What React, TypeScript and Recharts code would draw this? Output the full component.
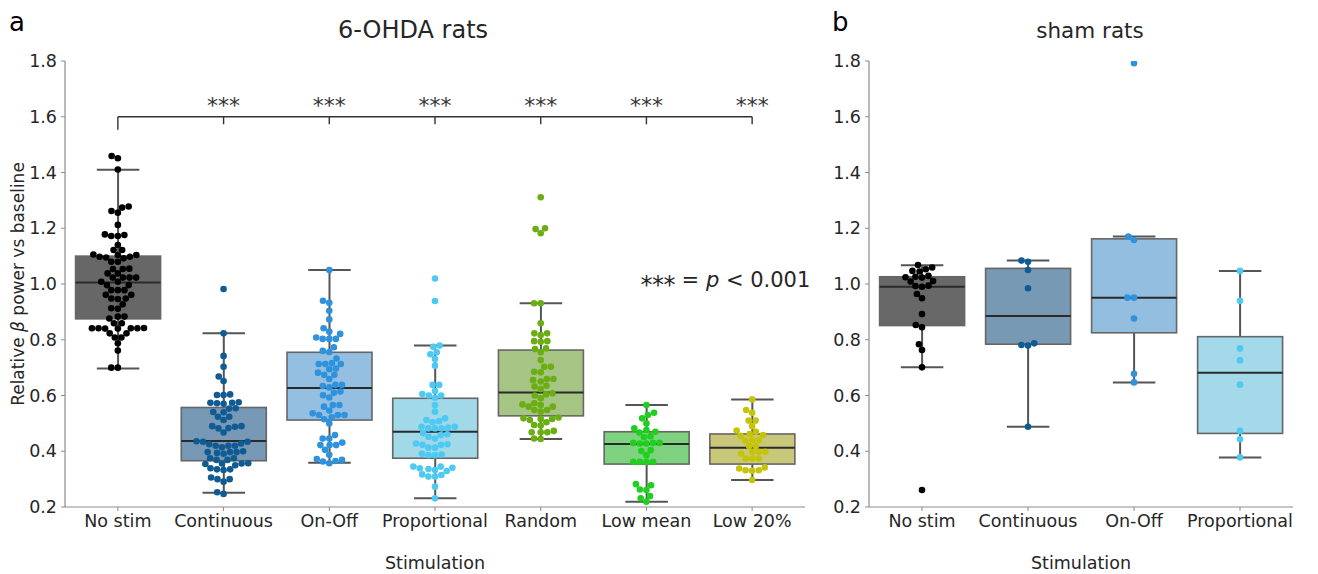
import React from "react";
import {
  Bar,
  ComposedChart,
  ReferenceDot,
  ReferenceLine,
  Scatter,
  XAxis,
  YAxis,
} from "recharts";

const FONT = "'DejaVu Sans', sans-serif";
const TXT = "#262626";
const AXIS = "#8c8c8c";
const EDGE = "#666666";
const WHISKER = "#555555";
const MEDIAN = "#2a2a2a";
const DOT_R = 3.3;
// plot height 446px over 1.6 units, used only by the swarm layout
const PX_PER_UNIT = 446 / 1.6;

const Y_TICKS = [0.2, 0.4, 0.6, 0.8, 1.0, 1.2, 1.4, 1.6, 1.8];

// ---- panel a: 6-OHDA rats
const CATS_A = ["No stim", "Continuous", "On-Off", "Proportional", "Random", "Low mean", "Low 20%"];
const WLO_A = [0.697, 0.251, 0.359, 0.231, 0.444, 0.219, 0.297];
const Q1_A = [0.875, 0.366, 0.512, 0.375, 0.527, 0.354, 0.354];
const MED_A = [1.005, 0.437, 0.627, 0.47, 0.611, 0.426, 0.413];
const Q3_A = [1.1, 0.557, 0.755, 0.59, 0.763, 0.47, 0.462];
const WHI_A = [1.41, 0.823, 1.05, 0.779, 0.931, 0.566, 0.586];
const BOX_A = ["#676767", "#7799b6", "#94bfe0", "#a2d9e9", "#a6c584", "#7fd27f", "#c9c87a"];
const DOT_A = ["#000000", "#115b93", "#2f92dc", "#4dc9f2", "#6aae13", "#1fd01f", "#c6c40a"];

const NOSTIM_A = [1.459, 1.451, 1.411, 1.278, 1.274, 1.262, 1.256, 1.212, 1.178, 1.176, 1.172, 1.172, 1.14, 1.122, 1.122, 1.106, 1.104, 1.104, 1.098, 1.098, 1.095, 1.092, 1.08, 1.08, 1.055, 1.054, 1.054, 1.038, 1.038, 1.023, 1.023, 1.023, 1.023, 1.008, 1.008, 0.996, 0.996, 0.978, 0.978, 0.978, 0.961, 0.961, 0.948, 0.948, 0.946, 0.927, 0.913, 0.911, 0.883, 0.883, 0.876, 0.859, 0.859, 0.841, 0.841, 0.841, 0.84, 0.842, 0.841, 0.84, 0.823, 0.823, 0.808, 0.808, 0.787, 0.761, 0.7, 0.7];
const CONT_A = [0.982, 0.823, 0.742, 0.703, 0.668, 0.652, 0.602, 0.602, 0.604, 0.574, 0.57, 0.574, 0.572, 0.576, 0.554, 0.553, 0.541, 0.54, 0.524, 0.524, 0.512, 0.49, 0.482, 0.483, 0.488, 0.49, 0.467, 0.436, 0.425, 0.434, 0.434, 0.428, 0.42, 0.42, 0.414, 0.42, 0.397, 0.397, 0.394, 0.397, 0.391, 0.4, 0.375, 0.369, 0.375, 0.369, 0.356, 0.357, 0.354, 0.356, 0.35, 0.339, 0.335, 0.333, 0.335, 0.3, 0.3, 0.306, 0.291, 0.253, 0.247];
const ONOFF_A = [1.05, 0.94, 0.933, 0.904, 0.873, 0.841, 0.829, 0.821, 0.803, 0.803, 0.803, 0.808, 0.773, 0.76, 0.756, 0.733, 0.713, 0.713, 0.713, 0.716, 0.697, 0.694, 0.682, 0.674, 0.674, 0.659, 0.638, 0.629, 0.634, 0.638, 0.614, 0.61, 0.593, 0.601, 0.566, 0.56, 0.566, 0.536, 0.546, 0.53, 0.53, 0.53, 0.515, 0.522, 0.5, 0.458, 0.446, 0.446, 0.431, 0.422, 0.422, 0.422, 0.405, 0.387, 0.365, 0.369, 0.372, 0.357, 0.363];
const PROP_A = [1.02, 0.939, 0.779, 0.775, 0.755, 0.748, 0.731, 0.707, 0.638, 0.638, 0.616, 0.6, 0.592, 0.6, 0.605, 0.566, 0.542, 0.518, 0.508, 0.504, 0.512, 0.488, 0.482, 0.485, 0.482, 0.482, 0.488, 0.465, 0.458, 0.461, 0.452, 0.446, 0.428, 0.425, 0.423, 0.423, 0.413, 0.413, 0.391, 0.386, 0.386, 0.388, 0.345, 0.341, 0.333, 0.336, 0.329, 0.339, 0.345, 0.317, 0.309, 0.309, 0.315, 0.273, 0.231];
const RAND_A = [1.311, 1.2, 1.197, 1.182, 0.931, 0.931, 0.859, 0.823, 0.817, 0.823, 0.793, 0.795, 0.795, 0.767, 0.755, 0.769, 0.727, 0.703, 0.703, 0.685, 0.683, 0.659, 0.655, 0.65, 0.659, 0.635, 0.632, 0.623, 0.608, 0.6, 0.604, 0.59, 0.56, 0.572, 0.566, 0.568, 0.56, 0.548, 0.542, 0.548, 0.516, 0.518, 0.512, 0.516, 0.521, 0.504, 0.492, 0.494, 0.468, 0.468, 0.473, 0.468, 0.446, 0.444];
const LOWMEAN_A = [0.566, 0.538, 0.53, 0.518, 0.5, 0.476, 0.47, 0.482, 0.454, 0.45, 0.467, 0.43, 0.43, 0.428, 0.43, 0.428, 0.404, 0.401, 0.386, 0.362, 0.362, 0.362, 0.362, 0.282, 0.278, 0.261, 0.263, 0.239, 0.231, 0.219];
const LOW20_A = [0.586, 0.548, 0.538, 0.51, 0.51, 0.49, 0.47, 0.474, 0.462, 0.455, 0.458, 0.44, 0.438, 0.44, 0.419, 0.419, 0.398, 0.392, 0.398, 0.398, 0.374, 0.374, 0.374, 0.338, 0.332, 0.33, 0.332, 0.342, 0.297];
const POINTS_A = [NOSTIM_A, CONT_A, ONOFF_A, PROP_A, RAND_A, LOWMEAN_A, LOW20_A];

// ---- panel b: sham rats
const CATS_B = ["No stim", "Continuous", "On-Off", "Proportional"];
const WLO_B = [0.701, 0.488, 0.647, 0.378];
const Q1_B = [0.851, 0.784, 0.825, 0.464];
const MED_B = [0.99, 0.885, 0.951, 0.682];
const Q3_B = [1.026, 1.056, 1.162, 0.811];
const WHI_B = [1.067, 1.084, 1.17, 1.047];
const BOX_B = ["#686868", "#7899b4", "#93bedf", "#a3d9e8"];
const DOT_B = ["#000000", "#115b93", "#2f92dc", "#4dc9f2"];

const NOSTIM_B = [1.068, 1.059, 1.053, 1.045, 1.047, 1.029, 1.026, 1.023, 1.024, 1.011, 1.009, 0.993, 0.99, 0.994, 0.964, 0.949, 0.892, 0.853, 0.845, 0.784, 0.763, 0.701, 0.261];
const CONT_B = [1.084, 1.08, 1.05, 0.985, 0.781, 0.779, 0.787, 0.488];
const ONOFF_B = [1.792, 1.17, 1.158, 0.951, 0.951, 0.876, 0.678, 0.647];
const PROP_B = [1.047, 0.94, 0.769, 0.726, 0.639, 0.473, 0.443, 0.378];
const POINTS_B = [NOSTIM_B, CONT_B, ONOFF_B, PROP_B];

const SIG_Y = 1.6;

// beeswarm: horizontal pixel offsets so dots don't overlap
function swarmOffsets(values: number[]): number[] {
  const order = values.map((_, i) => i).sort((a, b) => values[a] - values[b]);
  const placed: { x: number; y: number }[] = [];
  const dx = new Array(values.length).fill(0);
  const d = 2 * DOT_R;
  for (const i of order) {
    const y = values[i] * PX_PER_UNIT;
    const near = placed.filter((q) => Math.abs(q.y - y) < d);
    const cands = [0];
    for (const q of near) {
      const h = Math.sqrt(d * d - (q.y - y) ** 2);
      cands.push(q.x - h, q.x + h);
    }
    cands.sort((a, b) => Math.abs(a) - Math.abs(b));
    const x =
      cands.find((c) => near.every((q) => (q.x - c) ** 2 + (q.y - y) ** 2 >= d * d - 1e-6)) ?? 0;
    dx[i] = x;
    placed.push({ x, y });
  }
  return dx;
}

function buildRows(cats: string[], lo: number[], q1: number[], med: number[], q3: number[], hi: number[]) {
  return cats.map((name, i) => ({ name, lo: lo[i], q1: q1[i], med: med[i], q3: q3[i], hi: hi[i] }));
}

function buildPoints(cat: string, values: number[]) {
  const dx = swarmOffsets(values);
  return values.map((v, i) => ({ name: cat, v, dx: dx[i] }));
}

const makeBox = (fills: string[]) => (p: any) => {
  const { x, y, width, height, payload, index } = p;
  const span = payload.hi - payload.lo;
  const py = (v: number) => y + (height * (payload.hi - v)) / span;
  const cx = x + width / 2;
  const cap = width / 4;
  return (
    <g>
      <line x1={cx} x2={cx} y1={py(payload.hi)} y2={py(payload.q3)} stroke={WHISKER} strokeWidth={2} />
      <line x1={cx} x2={cx} y1={py(payload.q1)} y2={py(payload.lo)} stroke={WHISKER} strokeWidth={2} />
      <line x1={cx - cap} x2={cx + cap} y1={py(payload.hi)} y2={py(payload.hi)} stroke={WHISKER} strokeWidth={2} />
      <line x1={cx - cap} x2={cx + cap} y1={py(payload.lo)} y2={py(payload.lo)} stroke={WHISKER} strokeWidth={2} />
      <rect
        x={x}
        y={py(payload.q3)}
        width={width}
        height={py(payload.q1) - py(payload.q3)}
        fill={fills[index]}
        stroke={EDGE}
        strokeWidth={1.6}
      />
      <line x1={x} x2={x + width} y1={py(payload.med)} y2={py(payload.med)} stroke={MEDIAN} strokeWidth={2} />
    </g>
  );
};

const dotShape = (color: string) => (p: any) => (
  <circle cx={p.cx + p.payload.dx} cy={p.cy} r={DOT_R} fill={color} />
);

const xLabel = (p: any) => {
  const vb = p.viewBox;
  return (
    <text x={vb.x + vb.width / 2} y={vb.y + 62} textAnchor="middle" fontSize={17.5} fill={TXT} fontFamily={FONT}>
      Stimulation
    </text>
  );
};

const yLabel = (p: any) => {
  const vb = p.viewBox;
  const x = vb.x - 2;
  const y = vb.y + vb.height / 2;
  return (
    <text
      x={x}
      y={y}
      transform={`rotate(-90, ${x}, ${y})`}
      textAnchor="middle"
      dominantBaseline="central"
      fontSize={17}
      fill={TXT}
      fontFamily={FONT}
    >
      Relative <tspan fontStyle="italic">β</tspan> power vs baseline
    </text>
  );
};

const pLabel = (p: any) => {
  const vb = p.viewBox;
  return (
    <text x={vb.x - 6} y={vb.y} fontSize={21} fill={TXT} fontFamily={FONT}>
      <tspan dy={6} fontSize={24} letterSpacing={-0.5}>***</tspan>
      <tspan dy={-6}> = </tspan>
      <tspan fontStyle="italic">p</tspan>
      <tspan>{" < 0.001"}</tspan>
    </text>
  );
};

function Panel({
  cats,
  rows,
  points,
  boxFills,
  dotColors,
  width,
  margin,
  withYLabel,
  children,
}: any) {
  return (
    <ComposedChart width={width} height={574} data={rows} margin={margin} barCategoryGap="10%">
      <XAxis
        dataKey="name"
        type="category"
        allowDuplicatedCategory={false}
        interval={0}
        height={30}
        tickSize={4}
        tickMargin={4}
        tick={{ fontSize: 17.5, fill: TXT, fontFamily: FONT }}
        tickLine={{ stroke: AXIS }}
        axisLine={{ stroke: AXIS, strokeWidth: 1.2 }}
        label={{ content: xLabel }}
      />
      <YAxis
        type="number"
        domain={[0.2, 1.8]}
        allowDataOverflow
        ticks={Y_TICKS}
        width={45}
        tickSize={4}
        tickMargin={4}
        tickFormatter={(v: number) => v.toFixed(1)}
        tick={{ fontSize: 17.5, fill: TXT, fontFamily: FONT }}
        tickLine={{ stroke: AXIS }}
        axisLine={{ stroke: AXIS, strokeWidth: 1.2 }}
        label={withYLabel ? { content: yLabel } : undefined}
      />
      <Bar dataKey={(d: any) => [d.lo, d.hi]} shape={makeBox(boxFills)} isAnimationActive={false} />
      {cats.map((c: string, i: number) => (
        <Scatter
          key={c}
          data={buildPoints(c, points[i])}
          dataKey="v"
          shape={dotShape(dotColors[i])}
          isAnimationActive={false}
        />
      ))}
      {children}
    </ComposedChart>
  );
}

export default function App() {
  const rowsA = buildRows(CATS_A, WLO_A, Q1_A, MED_A, Q3_A, WHI_A);
  const rowsB = buildRows(CATS_B, WLO_B, Q1_B, MED_B, Q3_B, WHI_B);
  const first = CATS_A[0];
  const last = CATS_A[CATS_A.length - 1];
  return (
    <div style={{ position: "absolute", left: 0, top: 0, width: 1318, height: 574, background: "#fff" }}>
      <svg width={1318} height={574} style={{ position: "absolute", left: 0, top: 0 }}>
        <text x={9} y={31} fontSize={26} fill="#000" fontFamily={FONT}>a</text>
        <text x={413} y={38} fontSize={24} textAnchor="middle" fill={TXT} fontFamily={FONT}>6-OHDA rats</text>
        <text x={832} y={31} fontSize={26} fill="#000" fontFamily={FONT}>b</text>
        <text x={1090} y={38} fontSize={21.5} textAnchor="middle" fill={TXT} fontFamily={FONT}>sham rats</text>
      </svg>
      <div style={{ position: "absolute", left: 0, top: 0 }}>
        <Panel
          cats={CATS_A}
          rows={rowsA}
          points={POINTS_A}
          boxFills={BOX_A}
          dotColors={DOT_A}
          width={820}
          margin={{ top: 61, right: 15, bottom: 37, left: 20 }}
          withYLabel
        >
          <ReferenceLine
            segment={[{ x: first, y: SIG_Y }, { x: last, y: SIG_Y }]}
            stroke="#333"
            strokeWidth={1.4}
          />
          {CATS_A.map((c, i) => (
            <ReferenceLine
              key={"drop" + c}
              segment={[{ x: c, y: SIG_Y }, { x: c, y: i === 0 ? SIG_Y - 0.047 : SIG_Y - 0.027 }]}
              stroke="#333"
              strokeWidth={1.4}
            />
          ))}
          {CATS_A.slice(1).map((c) => (
            <ReferenceDot
              key={"star" + c}
              x={c}
              y={SIG_Y}
              r={0}
              fill="none"
              stroke="none"
              label={{ value: "***", position: "top", offset: 4, fontSize: 22, fill: "#333", fontFamily: FONT }}
            />
          ))}
          <ReferenceDot x="Low mean" y={0.99} r={0} fill="none" stroke="none" label={{ content: pLabel }} />
        </Panel>
      </div>
      <div style={{ position: "absolute", left: 820, top: 0 }}>
        <Panel
          cats={CATS_B}
          rows={rowsB}
          points={POINTS_B}
          boxFills={BOX_B}
          dotColors={DOT_B}
          width={498}
          margin={{ top: 61, right: 25, bottom: 37, left: 4 }}
          withYLabel={false}
        />
      </div>
    </div>
  );
}
